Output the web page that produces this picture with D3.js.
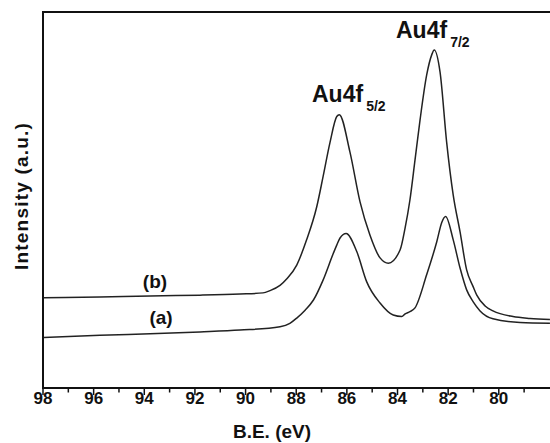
<!DOCTYPE html>
<html>
<head>
<meta charset="utf-8">
<script src="https://cdn.jsdelivr.net/npm/d3@7"></script>
<style>
  body { margin: 0; background: #fff; }
  text { font-family: Arial, "Liberation Sans", sans-serif; font-weight: bold; fill: #111; }
</style>
</head>
<body>
<div class="xpsChart"></div>
<script>
// binding energy (eV) and intensity (a.u.)
const energyB = [97.95, 95.73, 93.75, 91.78, 90.20, 89.29, 89.02, 88.62, 88.34, 87.96, 87.57, 87.17, 86.92, 86.65, 86.38, 86.28,
  85.86, 85.46, 85.07, 84.67, 84.34, 83.88, 83.68, 83.49, 83.29, 83.09, 82.83, 82.63, 82.53,
  82.30, 82.04, 81.78, 81.51, 81.25, 80.99, 80.85, 80.52, 80.21, 79.42, 78.75, 77.96];
const intensityB = [24.0, 24.2, 24.5, 24.7, 25.0, 25.3, 25.9, 27.3, 29.1, 32.7, 39.4, 48.2, 56.2, 65.2, 72.2, 72.7,
  62.8, 49.5, 40.7, 34.6, 33.2, 36.7, 42.6, 50.0, 60.6, 71.3, 83.2, 88.6, 89.9,
  84.0, 65.4, 51.3, 41.5, 31.4, 26.9, 24.7, 21.8, 20.5, 19.0, 18.5, 18.2];

const energyA = [97.95, 95.73, 93.75, 91.78, 90.20, 88.62, 88.23, 87.96, 87.63, 87.30, 86.92, 86.51, 86.38, 86.25, 86.01,
  85.59, 85.20, 84.67, 84.15, 83.81, 83.68, 83.49, 83.29, 82.83, 82.43, 82.23, 82.08,
  81.78, 81.51, 81.25, 80.99, 80.72, 80.21, 79.14, 77.96];
const intensityA = [13.4, 14.0, 14.4, 14.9, 15.4, 16.3, 17.2, 18.6, 20.7, 23.4, 28.7, 35.9, 38.0, 39.9, 41.1,
  36.3, 28.3, 22.6, 19.4, 19.0, 19.7, 20.3, 21.3, 30.1, 38.9, 44.1, 45.6,
  39.4, 31.9, 26.1, 22.9, 20.5, 18.4, 17.4, 17.2];

const majorTicks = [98, 96, 94, 92, 90, 88, 86, 84, 82, 80];
const minorTicks = [97, 95, 93, 91, 89, 87, 85, 83, 81, 79];

const W = 550, H = 443;
const plotLeft = 43, plotTop = 12, plotBottom = 388, plotRight = 550;

const svg = d3.select(".xpsChart")
  .append("svg")
  .attr("width", W)
  .attr("height", H);

// x runs from high to low binding energy
const x = d3.scaleLinear().domain([98, 80]).range([42.5, 498.3]);
const y = d3.scaleLinear().domain([0, 100]).range([plotBottom, plotTop]);

// minor ticks
svg.append("g")
  .attr("transform", `translate(0,${plotBottom})`)
  .call(d3.axisBottom(x).tickValues(minorTicks).tickSize(4.5).tickFormat(""))
  .call(g => g.select(".domain").remove())
  .selectAll("line").attr("stroke", "#111").attr("stroke-width", 1.5);

// major ticks + labels
const xAxis = svg.append("g")
  .attr("transform", `translate(0,${plotBottom})`)
  .call(d3.axisBottom(x).tickValues(majorTicks).tickSize(7).tickSizeOuter(0));
xAxis.select(".domain").remove();
xAxis.selectAll("line").attr("stroke", "#111").attr("stroke-width", 1.5);
xAxis.selectAll("text")
  .attr("y", 4)
  .style("font-size", "17px")
  .style("font-weight", "bold")
  .style("font-family", "Arial, 'Liberation Sans', sans-serif")
  .attr("fill", "#111");

// frame: left, top, bottom (right side cut off)
svg.append("path")
  .attr("d", `M${plotRight},${plotTop}H${plotLeft}V${plotBottom}H${plotRight}`)
  .attr("fill", "none")
  .attr("stroke", "#111")
  .attr("stroke-width", 2);

const line = d3.line()
  .x(d => x(d[0]))
  .y(d => y(d[1]))
  .curve(d3.curveMonotoneX);

svg.append("path")
  .datum(d3.zip(energyB, intensityB))
  .attr("d", line)
  .attr("fill", "none")
  .attr("stroke", "#222")
  .attr("stroke-width", 1.5);

svg.append("path")
  .datum(d3.zip(energyA, intensityA))
  .attr("d", line)
  .attr("fill", "none")
  .attr("stroke", "#222")
  .attr("stroke-width", 1.5);

// axis titles
svg.append("text")
  .attr("x", 272)
  .attr("y", 438)
  .attr("text-anchor", "middle")
  .style("font-size", "19px")
  .text("B.E. (eV)");

svg.append("text")
  .attr("transform", "translate(28,196) rotate(-90)")
  .attr("text-anchor", "middle")
  .style("font-size", "19px")
  .style("letter-spacing", "1.2px")
  .text("Intensity (a.u.)");

// curve labels
svg.append("text").attr("x", 155).attr("y", 288).attr("text-anchor", "middle")
  .style("font-size", "19px").text("(b)");
svg.append("text").attr("x", 161).attr("y", 324).attr("text-anchor", "middle")
  .style("font-size", "19px").text("(a)");

// peak labels with subscripts
function peakLabel(px, py, main, sub) {
  const t = svg.append("text").attr("x", px).attr("y", py).style("font-size", "23px");
  t.append("tspan").text(main);
  t.append("tspan").attr("dx", 3).attr("dy", 9).style("font-size", "14px").text(sub);
}
peakLabel(312, 101.5, "Au4f", "5/2");
peakLabel(396, 37.5, "Au4f", "7/2");
</script>
</body>
</html>
